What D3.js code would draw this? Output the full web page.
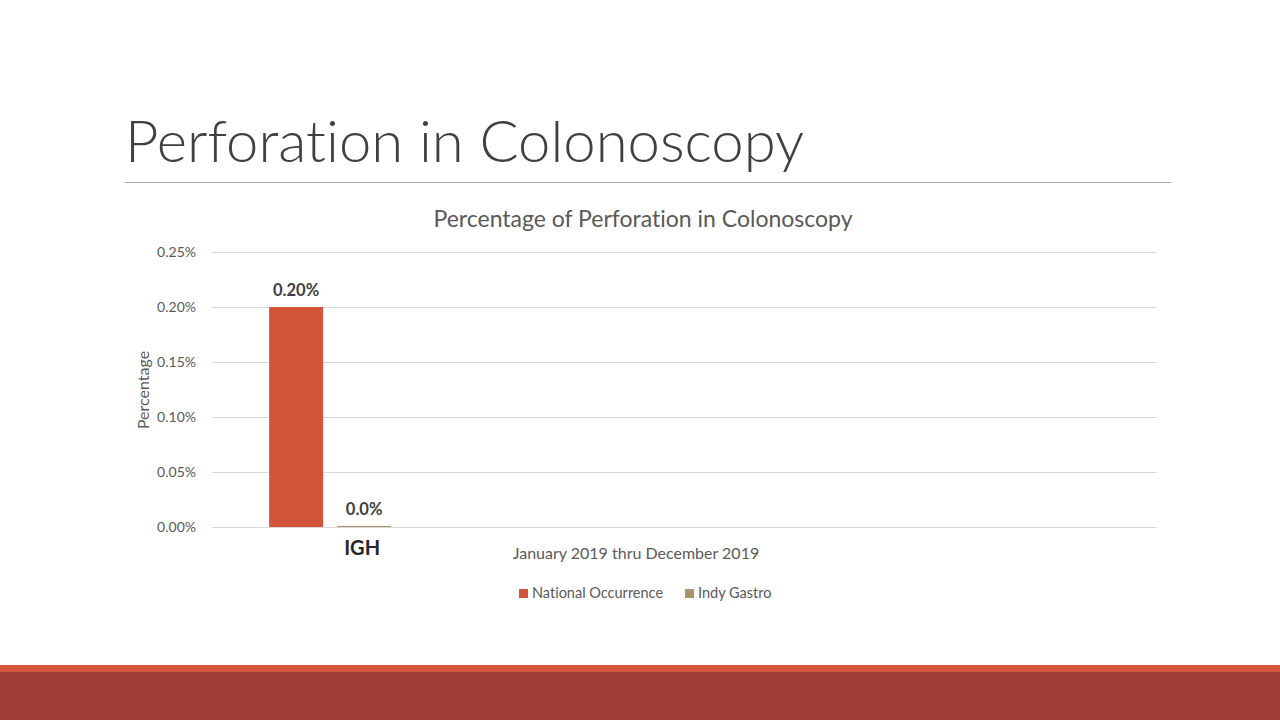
<!DOCTYPE html>
<html lang="en">
<head>
    <meta charset="UTF-8">
    <title>Perforation in Colonoscopy</title>
    <script src="https://d3js.org/d3.v7.min.js"></script>
    <style>
        body { margin: 0; background: #fff; }
        svg { display: block; }
        text { font-family: Lato, "Open Sans", sans-serif; font-variant-ligatures: none; }
    </style>
</head>
<body>
    <svg id="slide"></svg>

    <script>
        // chart data
        const categories = ["IGH", "c2", "c3", "c4"];
        const seriesNames = ["National Occurrence", "Indy Gastro"];
        const nationalValues = [0.20, null, null, null];
        const indyValues = [0.001, null, null, null];
        const valueLabels = [["0.20%"], ["0.0%"]];
        const yTicks = [0, 0.05, 0.10, 0.15, 0.20, 0.25];
        const colors = ["#d35539", "#a9936f"];

        const width = 1280, height = 720;
        const svg = d3.select("#slide").attr("width", width).attr("height", height);

        // slide title and rule
        svg.append("text")
            .attr("x", 125).attr("y", 162)
            .attr("font-size", 58).attr("font-weight", 300)
            .attr("fill", "#404040")
            .text("Perforation in Colonoscopy");

        svg.append("line")
            .attr("x1", 125).attr("x2", 1171)
            .attr("y1", 182.5).attr("y2", 182.5)
            .attr("stroke", "#a6a6a6").attr("stroke-width", 1);

        // bottom bands
        svg.append("rect").attr("x", 0).attr("y", 665).attr("width", width).attr("height", 8).attr("fill", "#d5573b");
        svg.append("rect").attr("x", 0).attr("y", 672).attr("width", width).attr("height", 48).attr("fill", "#a03f36");

        // plot area
        const plotLeft = 212, plotRight = 1157, plotTop = 252, plotBottom = 527;

        const x = d3.scaleBand().domain(categories).range([plotLeft, plotRight]).paddingInner(0).paddingOuter(0);
        const inner = d3.scaleBand().domain(seriesNames).range([0, x.bandwidth()]).paddingInner(0.206).paddingOuter(0.84);
        const y = d3.scaleLinear().domain([0, 0.25]).range([plotBottom, plotTop]);

        // gridlines
        svg.append("g")
            .selectAll("line")
            .data(yTicks)
            .join("line")
            .attr("x1", plotLeft).attr("x2", plotRight)
            .attr("y1", d => Math.round(y(d)) + 0.5)
            .attr("y2", d => Math.round(y(d)) + 0.5)
            .attr("stroke", "#d9d9d9").attr("stroke-width", 1);

        // y tick labels
        svg.append("g")
            .selectAll("text")
            .data(yTicks)
            .join("text")
            .attr("x", 196)
            .attr("y", d => y(d) + 5)
            .attr("text-anchor", "end")
            .attr("font-size", 14)
            .attr("fill", "#595959")
            .text(d => d3.format(".2f")(d) + "%");

        // y axis title
        svg.append("text")
            .attr("transform", `translate(149, 390) rotate(-90)`)
            .attr("text-anchor", "middle")
            .attr("font-size", 16)
            .attr("fill", "#595959")
            .text("Percentage");

        // bars
        const series = [nationalValues, indyValues];
        series.forEach((values, s) => {
            const rows = categories.map((c, i) => ({ cat: c, value: values[i] })).filter(d => d.value !== null);
            const g = svg.append("g");
            g.selectAll("rect")
                .data(rows)
                .join("rect")
                .attr("x", d => x(d.cat) + inner(seriesNames[s]))
                .attr("width", inner.bandwidth())
                .attr("y", d => y(d.value))
                .attr("height", d => Math.max(1, y(0) - y(d.value)))
                .attr("fill", colors[s]);

            g.selectAll("text")
                .data(rows)
                .join("text")
                .attr("x", d => x(d.cat) + inner(seriesNames[s]) + inner.bandwidth() / 2)
                .attr("y", d => y(d.value) - 11)
                .attr("text-anchor", "middle")
                .attr("font-size", 16.5)
                .attr("font-weight", 700)
                .attr("fill", "#404040")
                .text((d, i) => valueLabels[s][i]);
        });

        // category label (sits under second bar)
        svg.append("text")
            .attr("x", x(categories[0]) + inner(seriesNames[1]) + inner.bandwidth() / 2 - 2)
            .attr("y", 555)
            .attr("text-anchor", "middle")
            .attr("font-size", 20)
            .attr("font-weight", 700)
            .attr("fill", "#262626")
            .text(categories[0]);

        // x axis title
        svg.append("text")
            .attr("x", 636).attr("y", 559)
            .attr("text-anchor", "middle")
            .attr("font-size", 16)
            .attr("fill", "#595959")
            .text("January 2019 thru December 2019");

        // chart title
        svg.append("text")
            .attr("x", 643).attr("y", 227)
            .attr("text-anchor", "middle")
            .attr("font-size", 23)
            .attr("fill", "#595959")
            .text("Percentage of Perforation in Colonoscopy");

        // legend
        const legendX = [519, 685];
        const legend = svg.append("g")
            .selectAll("g")
            .data(seriesNames)
            .join("g")
            .attr("transform", (d, i) => `translate(${legendX[i]}, 589)`);
        legend.append("rect").attr("width", 9).attr("height", 9).attr("fill", (d, i) => colors[i]);
        legend.append("text")
            .attr("x", 13).attr("y", 9)
            .attr("font-size", 14.5)
            .attr("fill", "#595959")
            .text(d => d);
    </script>
</body>
</html>
